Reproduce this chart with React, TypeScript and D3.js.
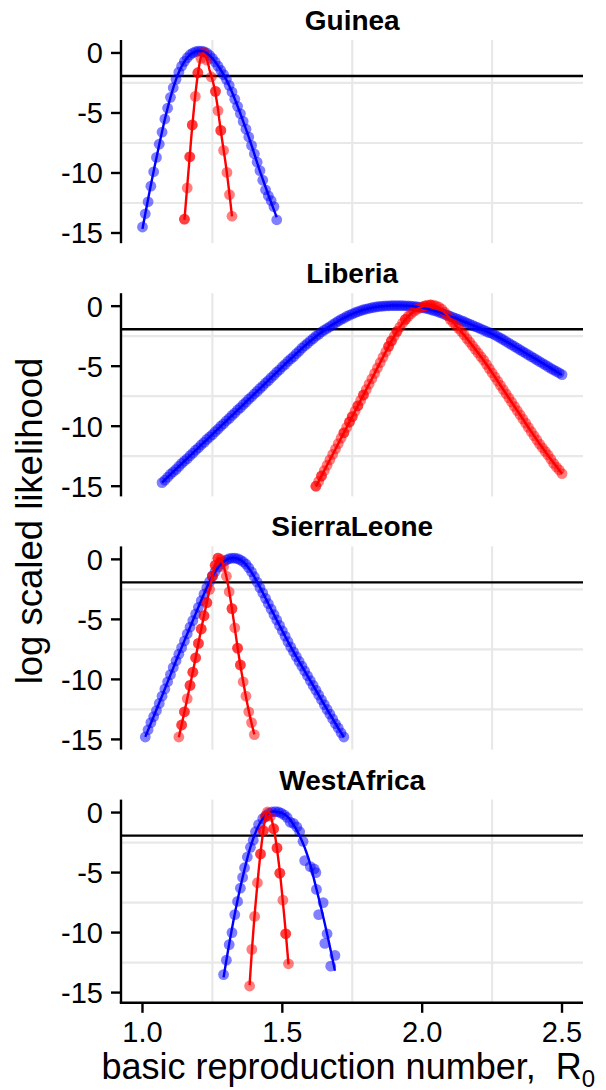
import React from 'react';
import * as d3 from 'd3';

type Pt = [number, number];

const countries = ['Guinea', 'Liberia', 'SierraLeone', 'WestAfrica'];
const xTicks = [1.0, 1.5, 2.0, 2.5];
const xTickLabels = ['1.0', '1.5', '2.0', '2.5'];
const yTicks = [0, -5, -10, -15];
const yTickLabels = ['0', '-5', '-10', '-15'];
const xMinor = [1.25, 1.75, 2.25];
const yMinor = [-2.5, -7.5, -12.5];
const cutoff = -1.92;

// ---------- Guinea ----------
const guineaBlue: Pt[] = [
  [1.00, -14.5], [1.01, -13.4], [1.02, -12.4], [1.03, -11.1], [1.04, -9.9], [1.05, -8.7], [1.06, -7.6],
  [1.07, -6.6], [1.08, -5.5], [1.09, -4.6], [1.10, -3.7], [1.11, -2.9], [1.12, -2.2], [1.13, -1.6],
  [1.14, -1.1], [1.15, -0.7], [1.16, -0.4], [1.17, -0.15], [1.18, 0.0], [1.19, 0.1], [1.20, 0.15],
  [1.21, 0.15], [1.22, 0.1], [1.23, 0.0], [1.24, -0.2], [1.25, -0.45], [1.26, -0.75], [1.27, -1.1],
  [1.28, -1.45], [1.29, -1.8], [1.30, -2.2], [1.31, -2.7], [1.32, -3.25], [1.33, -3.85], [1.34, -4.45],
  [1.35, -5.05], [1.36, -5.7], [1.37, -6.35], [1.38, -7.0], [1.39, -7.7], [1.40, -8.4], [1.41, -9.1],
  [1.42, -9.8], [1.43, -10.6], [1.44, -11.4], [1.45, -11.9], [1.46, -12.3], [1.47, -12.8], [1.48, -13.9],
];
const guineaRed: Pt[] = [
  [1.150, -13.85], [1.160, -11.25], [1.169, -8.65], [1.178, -6.0], [1.189, -3.62], [1.198, -1.65],
  [1.209, -0.45], [1.219, 0.05], [1.230, -0.6], [1.246, -2.0], [1.261, -3.2], [1.270, -4.8],
  [1.280, -6.45], [1.290, -8.12], [1.302, -9.95], [1.311, -11.8], [1.320, -13.6],
];
const guineaRedRepeated = [1.150, 1.169, 1.178, 1.198, 1.261, 1.280];

// ---------- Liberia ----------
const liberiaBlue: Pt[] = [
  [1.07, -14.7], [1.08, -14.5], [1.09, -14.25], [1.10, -14.0], [1.11, -13.8], [1.12, -13.6], [1.13, -13.35],
  [1.14, -13.1], [1.15, -12.9], [1.16, -12.7], [1.17, -12.45], [1.18, -12.25], [1.19, -12.0], [1.20, -11.8],
  [1.21, -11.55], [1.22, -11.35], [1.23, -11.1], [1.24, -10.9], [1.25, -10.7], [1.26, -10.45], [1.27, -10.25],
  [1.28, -10.0], [1.29, -9.8], [1.30, -9.55], [1.31, -9.35], [1.32, -9.1], [1.33, -8.9], [1.34, -8.65],
  [1.35, -8.45], [1.36, -8.2], [1.37, -8.0], [1.38, -7.75], [1.39, -7.55], [1.40, -7.3], [1.41, -7.1],
  [1.42, -6.85], [1.43, -6.65], [1.44, -6.4], [1.45, -6.2], [1.46, -5.95], [1.47, -5.75], [1.48, -5.5],
  [1.49, -5.3], [1.50, -5.05], [1.51, -4.85], [1.52, -4.6], [1.53, -4.4], [1.54, -4.2], [1.55, -3.95],
  [1.56, -3.75], [1.57, -3.5], [1.58, -3.3], [1.59, -3.1], [1.60, -2.9], [1.61, -2.7], [1.62, -2.5],
  [1.63, -2.35], [1.64, -2.15], [1.65, -2.0], [1.66, -1.85], [1.67, -1.7], [1.68, -1.55], [1.69, -1.4],
  [1.70, -1.25], [1.71, -1.1], [1.72, -1.0], [1.73, -0.85], [1.74, -0.75], [1.75, -0.65], [1.76, -0.55],
  [1.77, -0.45], [1.78, -0.38], [1.79, -0.3], [1.80, -0.24], [1.81, -0.18], [1.82, -0.13], [1.83, -0.09],
  [1.84, -0.05], [1.85, -0.02], [1.86, 0.0], [1.87, 0.02], [1.88, 0.03], [1.89, 0.04], [1.90, 0.05],
  [1.91, 0.05], [1.92, 0.05], [1.93, 0.04], [1.94, 0.03], [1.95, 0.02], [1.96, 0.0], [1.97, -0.02],
  [1.98, -0.05], [1.99, -0.08], [2.00, -0.12], [2.01, -0.17], [2.02, -0.22], [2.03, -0.28], [2.04, -0.35],
  [2.05, -0.42], [2.06, -0.5], [2.07, -0.58], [2.08, -0.67], [2.09, -0.75], [2.10, -0.84], [2.11, -0.93],
  [2.12, -1.02], [2.13, -1.11], [2.14, -1.2], [2.15, -1.3], [2.16, -1.4], [2.17, -1.5], [2.18, -1.6],
  [2.19, -1.7], [2.20, -1.8], [2.21, -1.9], [2.22, -2.0], [2.23, -2.1], [2.24, -2.2], [2.25, -2.28],
  [2.26, -2.4], [2.27, -2.53], [2.28, -2.66], [2.29, -2.8], [2.30, -2.94], [2.31, -3.08], [2.32, -3.22],
  [2.33, -3.36], [2.34, -3.5], [2.35, -3.64], [2.36, -3.78], [2.37, -3.92], [2.38, -4.06], [2.39, -4.2],
  [2.40, -4.34], [2.41, -4.48], [2.42, -4.62], [2.43, -4.76], [2.44, -4.9], [2.45, -5.04], [2.46, -5.18],
  [2.47, -5.31], [2.48, -5.44], [2.49, -5.57], [2.50, -5.7],
];
const liberiaRed: Pt[] = [
  [1.62, -15.0], [1.63, -14.6], [1.64, -14.15], [1.65, -13.7], [1.66, -13.25], [1.67, -12.8], [1.68, -12.35],
  [1.69, -11.9], [1.70, -11.45], [1.71, -11.0], [1.72, -10.55], [1.73, -10.1], [1.74, -9.65], [1.75, -9.2],
  [1.76, -8.75], [1.77, -8.3], [1.78, -7.85], [1.79, -7.4], [1.80, -6.95], [1.81, -6.5], [1.82, -6.05],
  [1.83, -5.6], [1.84, -5.15], [1.85, -4.7], [1.86, -4.25], [1.87, -3.8], [1.88, -3.35], [1.89, -2.9],
  [1.90, -2.5], [1.91, -2.1], [1.92, -1.75], [1.93, -1.4], [1.94, -1.1], [1.95, -0.85], [1.96, -0.62],
  [1.97, -0.43], [1.98, -0.28], [1.99, -0.16], [2.00, -0.06], [2.01, 0.02], [2.02, 0.08], [2.03, 0.1],
  [2.04, 0.08], [2.05, 0.02], [2.06, -0.08], [2.07, -0.25], [2.08, -0.5], [2.09, -0.8], [2.10, -1.1],
  [2.11, -1.35], [2.12, -1.6], [2.13, -1.85], [2.14, -2.1], [2.15, -2.4], [2.16, -2.7], [2.17, -3.0],
  [2.18, -3.3], [2.19, -3.6], [2.20, -3.9], [2.21, -4.2], [2.22, -4.5], [2.23, -4.85], [2.24, -5.2],
  [2.25, -5.55], [2.26, -5.9], [2.27, -6.25], [2.28, -6.6], [2.29, -6.95], [2.30, -7.3], [2.31, -7.65],
  [2.32, -8.0], [2.33, -8.35], [2.34, -8.7], [2.35, -9.05], [2.36, -9.4], [2.37, -9.75], [2.38, -10.1],
  [2.39, -10.45], [2.40, -10.8], [2.41, -11.15], [2.42, -11.5], [2.43, -11.8], [2.44, -12.1], [2.45, -12.4],
  [2.46, -12.75], [2.47, -13.1], [2.48, -13.4], [2.49, -13.65], [2.50, -13.95],
];
const liberiaRedRepeated = [1.62, 1.64, 1.72, 1.74, 1.75, 1.77, 1.79, 1.88, 1.89, 1.91, 1.94, 2.01, 2.03];

// ---------- Sierra Leone ----------
const sierraBlue: Pt[] = [
  [1.01, -14.8], [1.02, -14.2], [1.03, -13.6], [1.04, -13.1], [1.05, -12.6], [1.06, -12.0], [1.07, -11.4],
  [1.08, -10.8], [1.09, -10.2], [1.10, -9.6], [1.11, -9.0], [1.12, -8.45], [1.13, -7.9], [1.14, -7.35],
  [1.15, -6.8], [1.16, -6.2], [1.17, -5.65], [1.18, -5.1], [1.19, -4.55], [1.20, -4.0], [1.21, -3.45],
  [1.22, -2.9], [1.23, -2.35], [1.24, -1.85], [1.25, -1.4], [1.26, -1.0], [1.27, -0.65], [1.28, -0.4],
  [1.29, -0.2], [1.30, -0.05], [1.31, 0.05], [1.32, 0.1], [1.33, 0.1], [1.34, 0.05], [1.35, -0.05],
  [1.36, -0.2], [1.37, -0.4], [1.38, -0.7], [1.39, -1.05], [1.40, -1.45], [1.41, -1.9], [1.42, -2.35],
  [1.43, -2.8], [1.44, -3.25], [1.45, -3.7], [1.46, -4.15], [1.47, -4.6], [1.48, -5.05], [1.49, -5.5],
  [1.50, -5.95], [1.51, -6.4], [1.52, -6.85], [1.53, -7.3], [1.54, -7.7], [1.55, -8.1], [1.56, -8.5],
  [1.57, -8.9], [1.58, -9.3], [1.59, -9.7], [1.60, -10.1], [1.61, -10.5], [1.62, -10.9], [1.63, -11.3],
  [1.64, -11.7], [1.65, -12.1], [1.66, -12.5], [1.67, -12.9], [1.68, -13.3], [1.69, -13.7], [1.70, -14.05],
  [1.71, -14.45], [1.72, -14.8],
];
const sierraRed: Pt[] = [
  [1.13, -14.8], [1.14, -13.8], [1.15, -12.7], [1.16, -11.6], [1.17, -10.5], [1.18, -9.4], [1.19, -8.2],
  [1.20, -7.0], [1.21, -5.8], [1.22, -4.7], [1.23, -3.6], [1.24, -2.5], [1.25, -1.4], [1.26, -0.5],
  [1.27, 0.1], [1.28, 0.0], [1.29, -0.6], [1.30, -1.4], [1.31, -2.7], [1.32, -4.1], [1.33, -5.7],
  [1.34, -7.4], [1.35, -8.8], [1.36, -10.2], [1.37, -11.4], [1.38, -12.7], [1.39, -13.6], [1.40, -14.6],
];
const sierraRedRepeated = [1.14, 1.15, 1.17, 1.18, 1.19, 1.20, 1.21, 1.22, 1.23, 1.25, 1.26, 1.27, 1.32, 1.34, 1.35];

// ---------- West Africa ----------
const westBlue: Pt[] = [
  [1.290, -13.5], [1.300, -12.3], [1.310, -11.0], [1.320, -10.0], [1.330, -8.5], [1.340, -7.4],
  [1.350, -6.3], [1.358, -5.4], [1.365, -4.6], [1.375, -3.7], [1.386, -2.9], [1.396, -2.3],
  [1.404, -1.6], [1.415, -1.0], [1.430, -0.5], [1.441, -0.25], [1.452, -0.05], [1.463, 0.05],
  [1.475, 0.08], [1.486, 0.05], [1.496, -0.05], [1.507, -0.2], [1.517, -0.4], [1.528, -0.8],
  [1.540, -0.9], [1.552, -1.2], [1.562, -1.6], [1.574, -2.4], [1.580, -4.0], [1.600, -4.5],
  [1.614, -4.7], [1.620, -5.0], [1.622, -6.4], [1.630, -8.5], [1.646, -7.5], [1.652, -10.9],
  [1.660, -10.1], [1.673, -12.8], [1.688, -11.9],
];
const westRed: Pt[] = [
  [1.383, -14.45], [1.391, -11.4], [1.401, -8.65], [1.411, -5.85], [1.422, -3.45], [1.432, -1.5],
  [1.440, -0.35], [1.447, 0.05], [1.458, -0.3], [1.469, -1.35], [1.481, -2.95], [1.491, -5.05],
  [1.502, -7.3], [1.512, -10.1], [1.522, -12.6],
];
const westRedRepeated = [1.422, 1.432, 1.440, 1.469, 1.481, 1.491, 1.512];

const blueSeries: Pt[][] = [guineaBlue, liberiaBlue, sierraBlue, westBlue];
const redSeries: Pt[][] = [guineaRed, liberiaRed, sierraRed, westRed];
const redRepeated: number[][] = [guineaRedRepeated, liberiaRedRepeated, sierraRedRepeated, westRedRepeated];
const blueSpan = [0.3, 0.25, 0.25, 0.45];
const redSpan = [0.3, 0.2, 0.25, 0.35];

// local quadratic (loess-like) smoother for the fitted lines
function smooth(pts: Pt[], span: number, nOut = 160): Pt[] {
  const s = pts.slice().sort((a, b) => a[0] - b[0]);
  const n = s.length;
  const k = Math.min(n, Math.max(6, Math.round(span * n)));
  const lo = s[0][0];
  const hi = s[n - 1][0];
  const out: Pt[] = [];
  for (let j = 0; j < nOut; j++) {
    const x0 = lo + ((hi - lo) * j) / (nOut - 1);
    const d = s.map((p) => Math.abs(p[0] - x0));
    const sd = d.slice().sort((a, b) => a - b);
    const h = sd[k - 1] * 1.05 + 1e-9;
    let S0 = 0, S1 = 0, S2 = 0, S3 = 0, S4 = 0, T0 = 0, T1 = 0, T2 = 0;
    s.forEach((p, i) => {
      const r = d[i] / h;
      if (r >= 1) return;
      const w = Math.pow(1 - r * r * r, 3);
      const u = (p[0] - x0) / h;
      S0 += w; S1 += w * u; S2 += w * u * u; S3 += w * u * u * u; S4 += w * u * u * u * u;
      T0 += w * p[1]; T1 += w * u * p[1]; T2 += w * u * u * p[1];
    });
    const det = (a: number, b: number, c: number, dd: number, e: number, f: number, g: number, hh: number, ii: number) =>
      a * (e * ii - f * hh) - b * (dd * ii - f * g) + c * (dd * hh - e * g);
    const D = det(S0, S1, S2, S1, S2, S3, S2, S3, S4);
    const Da = det(T0, S1, S2, T1, S2, S3, T2, S3, S4);
    const y = Math.abs(D) > 1e-12 ? Da / D : T0 / S0;
    out.push([x0, y]);
  }
  return out;
}

const W = 606;
const H = 1090;
const plotLeft = 121.5;
const plotRight = 583;
const panelTop0 = 40;
const panelStep = 253.2;
const panelH = 203.2;
const FONT = '"Liberation Sans", Arial, Helvetica, sans-serif';

const xScale = d3.scaleLinear().domain([0.925, 2.575]).range([plotLeft, plotRight]);

export default function App() {
  const centerX = (plotLeft + plotRight) / 2;
  const lastBottom = panelTop0 + 3 * panelStep + panelH;
  return (
    <svg width={W} height={H} style={{ position: 'absolute', left: 0, top: 0, background: '#fff' }} fontFamily={FONT}>
      <rect x={0} y={0} width={W} height={H} fill="#fff" />
      {countries.map((name, i) => {
        const top = panelTop0 + i * panelStep;
        const yScale = d3.scaleLinear().domain([-15.85, 1.08]).range([top + panelH, top]);
        const line = d3
          .line<Pt>()
          .x((p) => xScale(p[0]))
          .y((p) => yScale(p[1]));
        const blue = blueSeries[i];
        const red = redSeries[i];
        const redPts = red.concat(red.filter((p) => redRepeated[i].includes(p[0])));
        const blueFit = smooth(blue, blueSpan[i]);
        const redFit = smooth(red, redSpan[i]);
        return (
          <g key={name}>
            <text x={centerX} y={top - 10} textAnchor="middle" fontWeight="bold" fontSize={28} fill="#000">
              {name}
            </text>
            {xMinor.map((v) => (
              <line key={'gx' + v} x1={xScale(v)} x2={xScale(v)} y1={top} y2={top + panelH} stroke="#e8e8e8" strokeWidth={2.2} />
            ))}
            {yMinor.map((v) => (
              <line key={'gy' + v} x1={plotLeft} x2={plotRight} y1={yScale(v)} y2={yScale(v)} stroke="#e8e8e8" strokeWidth={2.2} />
            ))}
            <line x1={plotLeft} x2={plotRight} y1={yScale(cutoff)} y2={yScale(cutoff)} stroke="#000" strokeWidth={2.4} />
            {blue.map((p, j) => (
              <circle key={'b' + j} cx={xScale(p[0])} cy={yScale(p[1])} r={5.4} fill="#0000ff" fillOpacity={0.5} />
            ))}
            {redPts.map((p, j) => (
              <circle key={'r' + j} cx={xScale(p[0])} cy={yScale(p[1])} r={5.4} fill="#ff0000" fillOpacity={0.5} />
            ))}
            <path d={line(blueFit) || ''} fill="none" stroke="#0000ff" strokeWidth={2.4} />
            <path d={line(redFit) || ''} fill="none" stroke="#ff0000" strokeWidth={2.4} />
            <line x1={121} x2={121} y1={top} y2={top + panelH} stroke="#000" strokeWidth={2.4} />
            {yTicks.map((v, j) => (
              <g key={'yt' + v}>
                <line x1={111} x2={121} y1={yScale(v)} y2={yScale(v)} stroke="#000" strokeWidth={2.4} />
                <text x={103} y={yScale(v)} dy="0.36em" textAnchor="end" fontSize={29} fill="#000">
                  {yTickLabels[j]}
                </text>
              </g>
            ))}
          </g>
        );
      })}
      <line x1={119.8} x2={plotRight} y1={lastBottom} y2={lastBottom} stroke="#000" strokeWidth={2.4} />
      {xTicks.map((v, j) => (
        <g key={'xt' + v}>
          <line x1={xScale(v)} x2={xScale(v)} y1={lastBottom} y2={lastBottom + 10} stroke="#000" strokeWidth={2.4} />
          <text x={xScale(v)} y={1042} textAnchor="middle" fontSize={29} fill="#000">
            {xTickLabels[j]}
          </text>
        </g>
      ))}
      <text x={centerX - 4} y={1079} textAnchor="middle" fontSize={36} fill="#000" style={{ whiteSpace: 'pre' }}>
        basic reproduction number,  R<tspan fontSize={24} dy={8}>0</tspan>
      </text>
      <text transform="translate(42,521) rotate(-90)" textAnchor="middle" fontSize={36.5} fill="#000">
        log scaled likelihood
      </text>
    </svg>
  );
}
